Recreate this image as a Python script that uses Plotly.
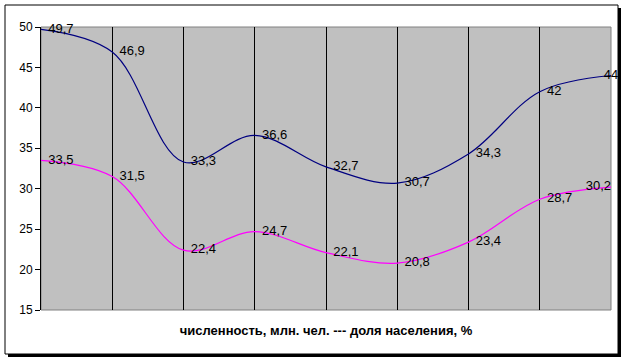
import plotly.graph_objects as go

categories = [0, 1, 2, 3, 4, 5, 6, 7, 8]
numbers = [49.7, 46.9, 33.3, 36.6, 32.7, 30.7, 34.3, 42, 44]
shares = [33.5, 31.5, 22.4, 24.7, 22.1, 20.8, 23.4, 28.7, 30.2]
y_ticks = [15, 20, 25, 30, 35, 40, 45, 50]
axis_title = "численность, млн. чел. --- доля населения, %"

NB = "\u00a0"

def labels(vals):
    out = []
    for i, v in enumerate(vals):
        s = ("%g" % v).replace(".", ",")
        out.append(s if i == len(vals) - 1 else NB + NB + s)
    return out

W, H = 624, 360
L, R, T, B = 41, 13, 27, 50
pw, ph = W - L - R, H - T - B

def px(x):
    return (x - L) / pw

def py(y):
    return (H - B - y) / ph

fig = go.Figure()
for vals, col, last_pos in [(numbers, "#000080", "middle center"),
                            (shares, "#FF00FF", "middle left")]:
    fig.add_trace(go.Scatter(
        x=categories, y=vals, mode="lines+text",
        line=dict(color=col, width=1.2, shape="spline", smoothing=1.0),
        text=labels(vals),
        textposition=["middle right"] * (len(categories) - 1) + [last_pos],
        textfont=dict(family="Liberation Sans, Arial", size=13, color="black"),
        cliponaxis=False, showlegend=False,
    ))

shapes = [
    # shadow strips
    dict(type="rect", xref="paper", yref="paper", layer="above",
         x0=px(618), x1=px(621), y0=py(8), y1=py(357),
         fillcolor="black", line=dict(width=0)),
    dict(type="rect", xref="paper", yref="paper", layer="above",
         x0=px(8), x1=px(621), y0=py(354), y1=py(357),
         fillcolor="black", line=dict(width=0)),
    # frame
    dict(type="rect", xref="paper", yref="paper", layer="above",
         x0=px(5), x1=px(618), y0=py(5), y1=py(354),
         line=dict(color="black", width=1)),
    # plot border
    dict(type="rect", xref="paper", yref="paper", layer="below",
         x0=0, x1=1, y0=0, y1=1, line=dict(color="#808080", width=1)),
]

fig.update_layout(
    width=W, height=H,
    margin=dict(l=L, r=R, t=T, b=B, autoexpand=False),
    paper_bgcolor="white", plot_bgcolor="#C0C0C0",
    font=dict(family="Liberation Sans, Arial", size=12, color="black"),
    shapes=shapes,
    xaxis=dict(range=[0, 8], tickmode="linear", tick0=0, dtick=1, automargin=False,
               showticklabels=False, showgrid=True, gridcolor="black", gridwidth=1,
               zeroline=False, showline=False, ticks="",
               title=dict(text="<b>" + axis_title + "</b>", standoff=15,
                          font=dict(size=13))),
    yaxis=dict(range=[15, 50], tickvals=y_ticks, showgrid=False, zeroline=False,
               automargin=False,
               showline=True, linecolor="black", linewidth=1,
               ticks="outside", ticklen=5, tickcolor="black",
               tickfont=dict(size=12)),
)

fig.write_html("out.html", config={"displayModeBar": False},
               post_script="document.body.style.margin='0';document.body.style.overflow='hidden';")
